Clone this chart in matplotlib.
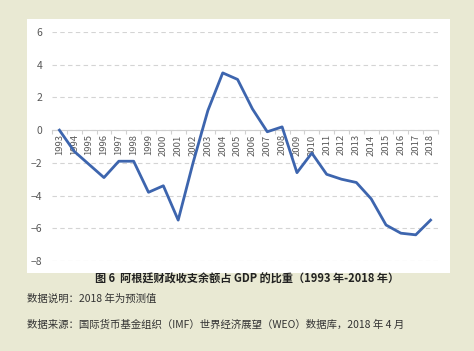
import matplotlib
matplotlib.use("Agg")
import matplotlib.pyplot as plt
from matplotlib.patches import Rectangle
from matplotlib.ticker import FixedLocator

plt.rcParams['font.family'] = ['Noto Sans CJK SC', 'DejaVu Sans']

# %% 数据
years = [str(y) for y in range(1993, 2019)]
balance = [0.0, -1.3, -2.1, -2.9, -1.9, -1.9, -3.8, -3.4, -5.5, -2.0,
           1.2, 3.5, 3.1, 1.3, -0.1, 0.2, -2.6, -1.4, -2.7, -3.0,
           -3.2, -4.2, -5.8, -6.3, -6.4, -5.5]
yticks = [6, 4, 2, 0, -2, -4, -6, -8]

title = "图 6  阿根廷财政收支余额占 GDP 的比重（1993 年-2018 年）"
note1 = "数据说明：2018 年为预测值"
note2 = "数据来源：国际货币基金组织（IMF）世界经济展望（WEO）数据库，2018 年 4 月"

W, H = 474, 351
fig = plt.figure(figsize=(W / 100, H / 100), dpi=100)
fig.patch.set_facecolor('#e9e9d3')

# 白色底板
fig.patches.append(Rectangle((27 / W, 1 - 273 / H), (450 - 27) / W, (273 - 19) / H,
                             transform=fig.transFigure, facecolor='white',
                             edgecolor='none', zorder=-1))

ax = fig.add_axes([52 / W, 1 - 261 / H, (438 - 52) / W, (261 - 32) / H])
ax.set_zorder(2)
ax.set_facecolor('none')
x = list(range(len(years)))
ax.plot(x, balance, color='#3d65ae', linewidth=2.0, zorder=3)

ax.set_xlim(-0.5, len(years) - 0.5)
ax.set_ylim(-8, 6)
ax.set_yticks(yticks)
ax.yaxis.grid(True, linestyle=(0, (4, 3)), color='#d4d4d4', linewidth=0.8)
ax.set_axisbelow(True)

for s in ['top', 'right', 'left']:
    ax.spines[s].set_visible(False)
ax.spines['bottom'].set_position(('data', 0))
ax.spines['bottom'].set_color('#d0d0d0')
ax.spines['bottom'].set_linewidth(0.8)

ax.set_xticks(x)
ax.set_xticklabels(years, rotation=90, fontsize=6.8, color='#595959')
ax.xaxis.set_minor_locator(FixedLocator([i - 0.5 for i in range(len(years) + 1)]))
ax.tick_params(axis='x', which='major', length=0, pad=3)
ax.tick_params(axis='x', which='minor', length=3, color='#d0d0d0', width=0.8)
ax.tick_params(axis='y', length=0, labelsize=7.5, labelcolor='#595959', pad=7)

fig.text(247 / W, 1 - 279 / H, title, ha='center', va='center',
         fontsize=8, fontweight='bold', color='#222222')
fig.text(27 / W, 1 - 299 / H, note1, ha='left', va='center',
         fontsize=7.5, color='#333333')
fig.text(27 / W, 1 - 325 / H, note2, ha='left', va='center',
         fontsize=7.5, color='#333333')

fig.savefig('out.png', dpi=100, facecolor=fig.get_facecolor())
